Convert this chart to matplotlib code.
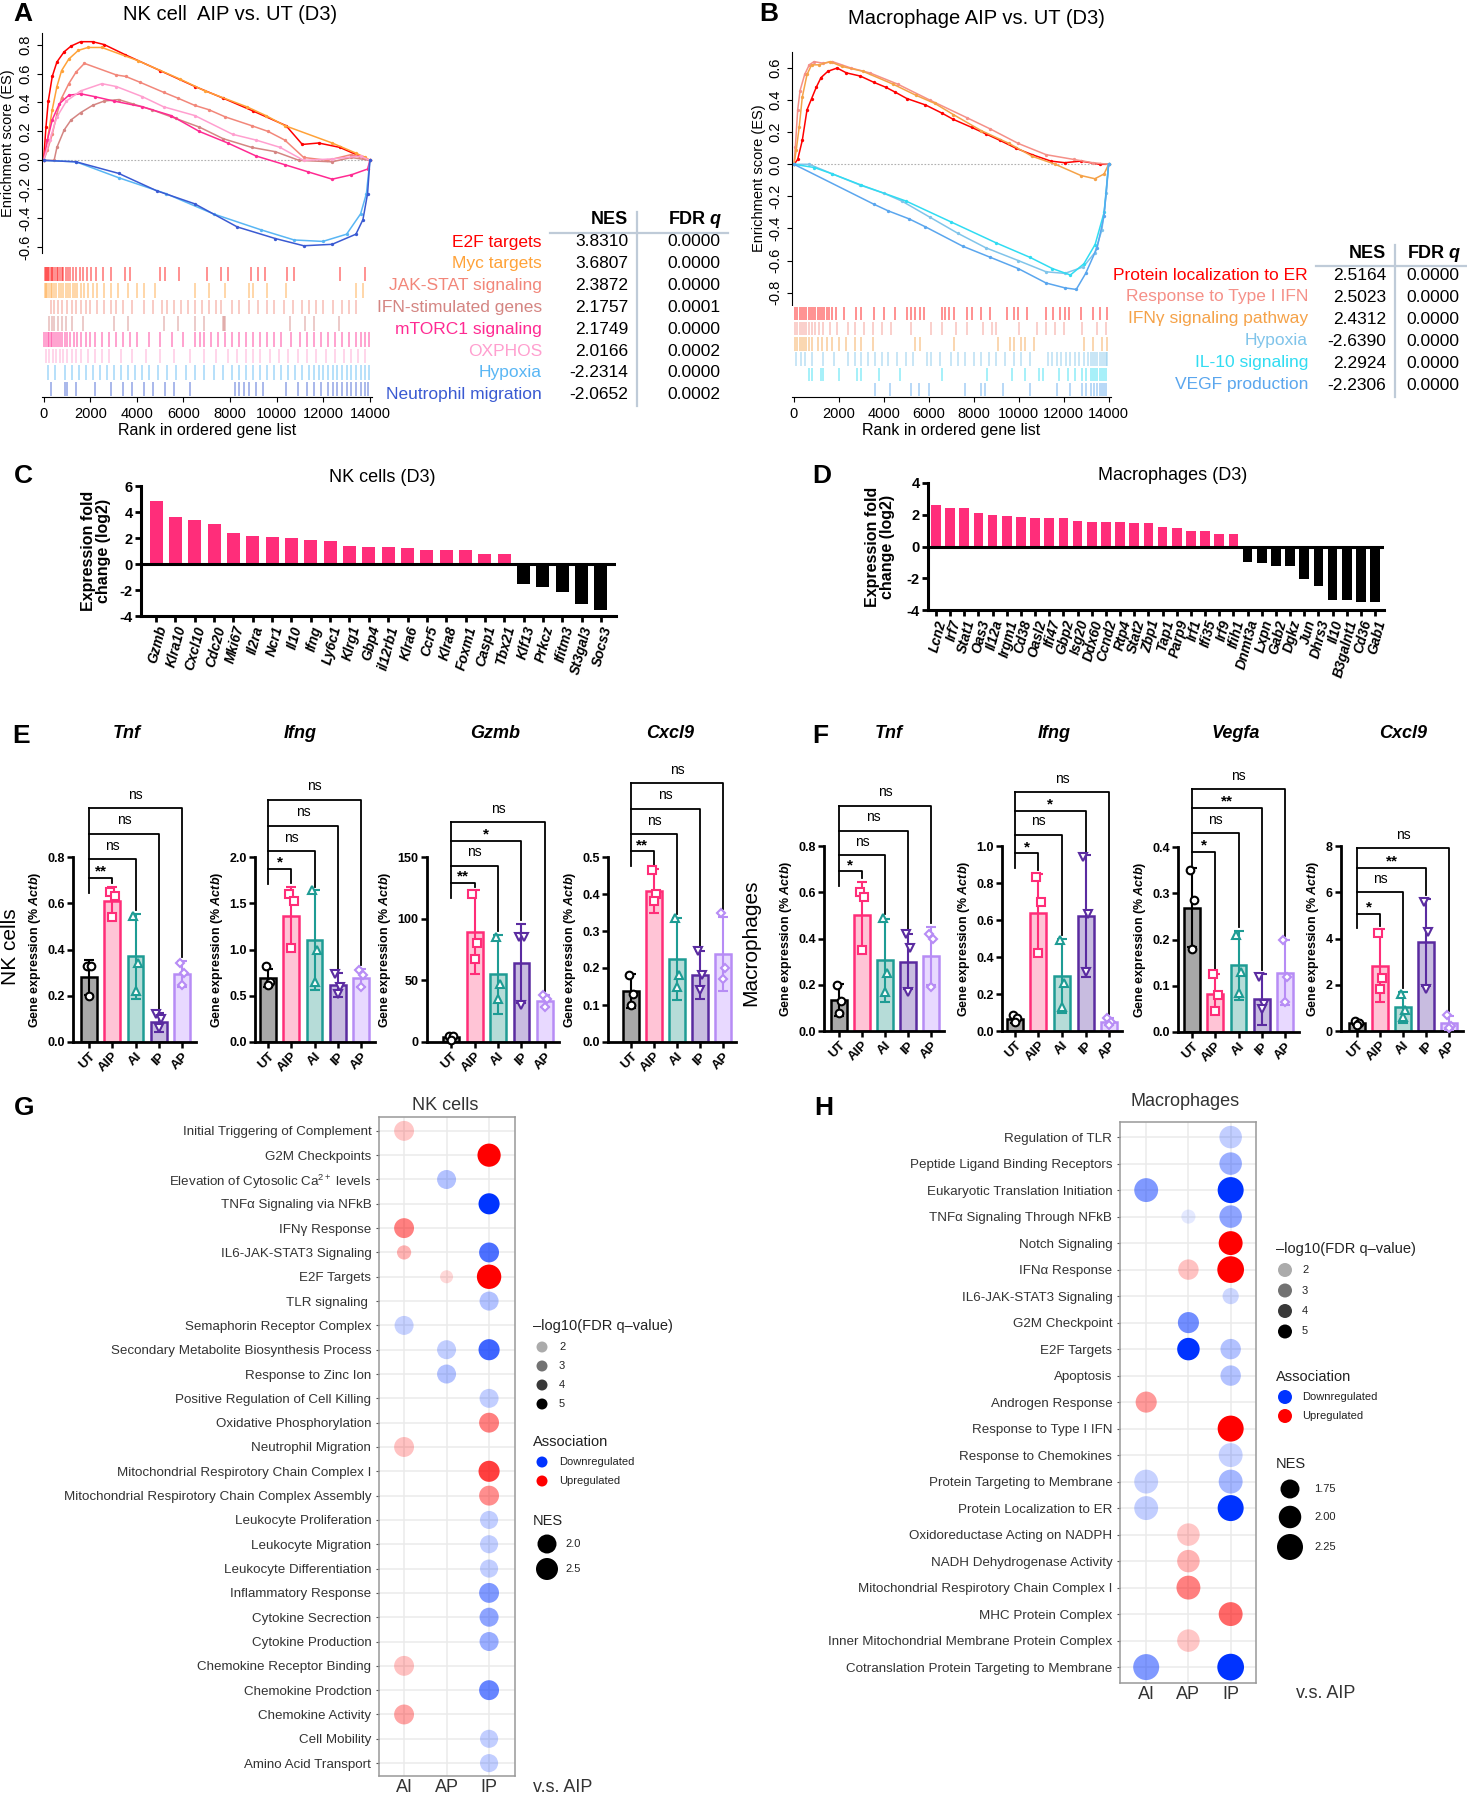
import numpy as np
import matplotlib
matplotlib.use('Agg')
import matplotlib.pyplot as plt

plt.rcParams['font.family'] = ['Liberation Sans', 'DejaVu Sans']
plt.rcParams['axes.unicode_minus'] = False
plt.rcParams['mathtext.fontset'] = 'custom'
plt.rcParams['mathtext.rm'] = 'Liberation Sans'
plt.rcParams['mathtext.it'] = 'Liberation Sans:italic'
plt.rcParams['mathtext.bf'] = 'Liberation Sans:bold'
try:
    plt.rcParams['mathtext.bfit'] = 'Liberation Sans:italic:bold'
    BFIT = r'$\mathbfit{Actb}$'
except KeyError:
    BFIT = r'$\mathit{Actb}$'

NARROW = ['Liberation Sans Narrow', 'Liberation Sans', 'DejaVu Sans']
W, H = 1467, 1800

# ---------------- panel A : NK cell AIP vs UT ----------------
a_names = ['E2F targets', 'Myc targets', 'JAK-STAT signaling', 'IFN-stimulated genes',
           'mTORC1 signaling', 'OXPHOS', 'Hypoxia', 'Neutrophil migration']
a_nes = ['3.8310', '3.6807', '2.3872', '2.1757', '2.1749', '2.0166', '-2.2314', '-2.0652']
a_fdr = ['0.0000', '0.0000', '0.0000', '0.0001', '0.0000', '0.0002', '0.0000', '0.0002']
a_colors = ['#ff0000', '#ffa238', '#f2877a', '#d48582', '#ff2a92', '#ff9fcf', '#59b6f4', '#3a5ad2']

a_rank_e2f = [0, 100, 200, 370, 570, 880, 1180, 1590, 2100, 2600, 3500, 5000, 6500, 7700, 9000,
              10400, 11100, 11800, 12700, 13700, 14000]
a_es_e2f = [0, 0.23, 0.41, 0.58, 0.68, 0.75, 0.79, 0.82, 0.82, 0.80, 0.73, 0.62, 0.51, 0.43, 0.34,
            0.24, 0.11, 0.12, 0.09, 0.02, 0]
a_rank_myc = [0, 160, 370, 570, 770, 1080, 1490, 1900, 2500, 4030, 5870, 6920, 8720, 9530, 10350,
              12380, 13400, 13800, 14000]
a_es_myc = [0, 0.14, 0.35, 0.51, 0.62, 0.70, 0.76, 0.78, 0.78, 0.69, 0.56, 0.48, 0.37, 0.31, 0.24,
            0.12, 0.05, 0.02, 0]
a_rank_jak = [0, 160, 370, 570, 770, 1080, 1390, 1750, 3120, 3520, 4130, 5150, 5760, 6480, 7090,
              7800, 8920, 9630, 10350, 11160, 12180, 13200, 14000]
a_es_jak = [0, 0.07, 0.18, 0.32, 0.43, 0.53, 0.61, 0.67, 0.59, 0.58, 0.54, 0.47, 0.43, 0.38, 0.35,
            0.30, 0.24, 0.20, 0.14, 0.02, 0.0, 0.04, 0]
a_rank_isg = [0, 450, 570, 880, 1180, 1590, 2100, 2600, 3220, 3830, 4640, 5660, 6680, 7700, 8920,
              9940, 10960, 12380, 13200, 14000]
a_es_isg = [0, 0.0, 0.09, 0.21, 0.28, 0.33, 0.38, 0.41, 0.42, 0.39, 0.35, 0.29, 0.23, 0.15, 0.09,
            0.06, 0.0, -0.01, 0.02, 0]
a_rank_mtor = [0, 160, 370, 670, 1080, 1590, 2200, 3010, 4240, 5460, 6680, 7900, 9120, 10350,
               11360, 12380, 13200, 13900, 14000]
a_es_mtor = [0, 0.14, 0.28, 0.39, 0.45, 0.46, 0.44, 0.41, 0.37, 0.31, 0.20, 0.12, 0.03, -0.03,
             -0.08, -0.13, -0.10, -0.06, 0]
a_rank_ox = [0, 260, 570, 980, 1590, 2500, 3120, 4240, 5150, 6480, 8110, 9120, 10140, 11160,
             12380, 13600, 14000]
a_es_ox = [0, 0.14, 0.30, 0.41, 0.48, 0.53, 0.51, 0.44, 0.37, 0.31, 0.18, 0.14, 0.09, 0.0, 0.01,
           0.03, 0]
a_rank_hyp = [0, 1390, 3220, 5250, 7290, 9330, 10750, 11980, 13000, 13600, 13850, 14000]
a_es_hyp = [0, -0.01, -0.12, -0.23, -0.37, -0.48, -0.55, -0.56, -0.51, -0.37, -0.23, 0]
a_rank_neu = [0, 1390, 3220, 4850, 6480, 8310, 9940, 11160, 12380, 13400, 13700, 13900, 14000]
a_es_neu = [0, -0.01, -0.09, -0.21, -0.30, -0.46, -0.54, -0.59, -0.58, -0.51, -0.41, -0.23, 0]

a_hits_e2f = [50, 100, 150, 200, 250, 300, 350, 420, 500, 560, 600, 700, 780, 850, 950, 1050, 1150,
              1250, 1400, 1550, 1700, 1850, 2050, 2250, 2550, 2900, 3500, 3700, 5000, 5200, 5800,
              7000, 7600, 7900, 8900, 9200, 9500, 10450, 10750, 12700, 13800]
a_hits_myc = [50, 100, 150, 250, 300, 350, 450, 550, 650, 750, 850, 950, 1050, 1150, 1250, 1350,
              1450, 1600, 1750, 1900, 2100, 2300, 2600, 2900, 3200, 3600, 4000, 4300, 4800, 6500,
              7100, 7800, 8800, 9000, 9600, 10400, 13400, 13700]
a_hits_jak = [300, 450, 600, 800, 1000, 1200, 1400, 1600, 1800, 2000, 2300, 2600, 2900, 3100, 3400,
              3800, 4300, 4700, 5100, 5300, 5600, 5900, 6200, 6500, 6800, 7100, 7400, 7600, 8100,
              8400, 8800, 9200, 9600, 9900, 10300, 10700, 11100, 11400, 11700, 12000, 12400, 12800,
              13100, 13400]
a_hits_isg = [250, 350, 450, 600, 800, 950, 1200, 1700, 3000, 3600, 5150, 5780, 6500, 6900, 7700,
              7750, 7800, 10570, 11200, 11600, 12680]
a_hits_mtor = [30, 100, 170, 240, 310, 380, 450, 520, 600, 700, 800, 900, 1000, 1150, 1300, 1450,
               1600, 1800, 2000, 2200, 2500, 2800, 3100, 3400, 3700, 4000, 4500, 5000, 5500, 6000,
               6500, 6700, 6900, 7200, 7500, 7800, 8100, 8400, 8700, 9000, 9300, 9600, 9900,
               10200, 10600, 11000, 11300, 11600, 11900, 12200, 12500, 12800, 13100, 13400,
               13600, 13800, 13950]
a_hits_ox = [100, 250, 400, 550, 700, 850, 1000, 1200, 1400, 1600, 1900, 2200, 2500, 2800, 3300,
             3800, 4400, 5000, 5600, 6300, 6900, 7400, 7900, 8300, 8700, 9000, 9300, 9700, 10100,
             10500, 10900, 11300, 11700, 12100, 12500, 12900, 13200, 13500, 13800]
a_hits_hyp = [200, 500, 900, 1200, 1500, 1800, 2100, 2400, 2700, 3000, 3300, 3600, 3900, 4200,
              4500, 4900, 5300, 5700, 6100, 6500, 6900, 7300, 7700, 8100, 8400, 8700, 9000, 9300,
              9600, 9900, 10200, 10500, 10800, 11100, 11400, 11600, 11800, 12000, 12200, 12400,
              12600, 12800, 13000, 13200, 13400, 13600, 13800, 13950]
a_hits_neu = [300, 900, 1000, 1400, 2200, 2900, 3400, 3800, 4300, 4700, 5200, 5600, 6300, 8200,
              8400, 8600, 8800, 9100, 9400, 10400, 10900, 11300, 11600, 11900, 12200, 12400,
              12600, 12800, 13000, 13200, 13400, 13600, 13800, 13900]

# ---------------- panel B : Macrophage AIP vs UT ----------------
b_names = ['Protein localization to ER', 'Response to Type I IFN', 'IFNγ signaling pathway',
           'Hypoxia', 'IL-10 signaling', 'VEGF production']
b_nes = ['2.5164', '2.5023', '2.4312', '-2.6390', '2.2924', '-2.2306']
b_fdr = ['0.0000', '0.0000', '0.0000', '0.0000', '0.0000', '0.0000']
b_colors = ['#ff0000', '#f59088', '#f5a248', '#80c4ea', '#30dcf2', '#5aa6ee']

b_rank_er = [0, 165, 370, 580, 785, 990, 1200, 1510, 1920, 2330, 2950, 3570, 4090, 4500, 5020,
             5850, 6570, 7090, 7910, 8530, 9150, 9880, 10600, 11430, 12050, 12770, 13600, 14000]
b_es_er = [0, 0.03, 0.15, 0.34, 0.41, 0.48, 0.54, 0.58, 0.60, 0.57, 0.55, 0.51, 0.48, 0.45, 0.41,
           0.37, 0.32, 0.28, 0.23, 0.19, 0.15, 0.10, 0.06, 0.02, 0.01, 0.02, 0.0, 0]
b_rank_ifn1 = [0, 60, 165, 270, 475, 680, 890, 1300, 1710, 2540, 3370, 4610, 6050, 7700, 8740,
               9980, 11220, 12460, 13290, 14000]
b_es_ifn1 = [0, 0.11, 0.34, 0.46, 0.56, 0.62, 0.64, 0.63, 0.64, 0.60, 0.57, 0.50, 0.40, 0.29, 0.22,
             0.13, 0.06, 0.03, 0.01, 0]
b_rank_ifng = [0, 100, 230, 370, 580, 785, 1100, 1610, 2130, 3060, 4400, 5430, 6260, 7090, 8330,
               9570, 10600, 11630, 12770, 13390, 13800, 14000]
b_es_ifng = [0, 0.09, 0.23, 0.42, 0.56, 0.62, 0.62, 0.64, 0.61, 0.58, 0.50, 0.43, 0.38, 0.31, 0.21,
             0.13, 0.05, 0.0, -0.07, -0.09, -0.06, 0]
b_rank_hyp = [0, 680, 1710, 2950, 3990, 4810, 6050, 7290, 8530, 9980, 11220, 12050, 12870, 13390,
              13700, 13900, 14000]
b_es_hyp = [0, 0.0, -0.06, -0.13, -0.18, -0.23, -0.33, -0.43, -0.52, -0.60, -0.67, -0.68, -0.64,
            -0.55, -0.41, -0.18, 0]
b_rank_il10 = [0, 900, 1710, 3000, 5000, 7000, 9000, 10500, 11500, 12300, 12900, 13400, 13800, 14000]
b_es_il10 = [0, -0.02, -0.06, -0.13, -0.23, -0.36, -0.49, -0.58, -0.65, -0.69, -0.62, -0.50, -0.30, 0]
b_rank_vegf = [0, 3570, 4190, 5120, 5850, 7500, 8740, 9980, 11220, 12050, 12560, 12980, 13490,
               13800, 14000]
b_es_vegf = [0, -0.25, -0.29, -0.34, -0.39, -0.51, -0.58, -0.65, -0.74, -0.77, -0.78, -0.68, -0.52,
             -0.32, 0]

b_hits_er = [60, 150, 250, 350, 450, 550, 650, 750, 850, 950, 1050, 1150, 1250, 1350, 1450, 1550,
             1700, 1850, 2230, 2750, 2960, 3580, 3990, 4500, 5020, 5200, 5400, 5600, 5800, 6570,
             6700, 6900, 7100, 7700, 7900, 8330, 8740, 9460, 9770, 9980, 10390, 11220, 11530,
             11840, 12050, 12260, 12770, 13290, 13600, 13910]
b_hits_ifn1 = [60, 150, 250, 350, 450, 550, 650, 800, 950, 1100, 1300, 1600, 1900, 2400, 2700, 3100,
               3500, 3900, 4300, 5200, 6100, 6600, 7200, 7700, 8400, 8800, 9000, 10000, 10800,
               11200, 11600, 12000, 12800, 13500, 13900]
b_hits_ifng = [60, 150, 250, 350, 450, 550, 650, 800, 1050, 1250, 1450, 1700, 2000, 2300, 2700,
               3000, 3500, 5400, 5600, 7100, 9100, 9600, 9800, 10100, 10300, 10700, 12900, 13300,
               13700, 13950]
b_hits_hyp = [100, 300, 500, 800, 1300, 1800, 2400, 2700, 3000, 3300, 3600, 3900, 4200, 4600, 5000,
              5300, 5900, 6100, 6500, 7000, 7300, 7600, 8000, 8300, 8700, 9000, 9400, 9800, 10100,
              10500, 11300, 11500, 11700, 11900, 12100, 12300, 12500, 12700, 12900, 13100, 13200,
              13300, 13400, 13500, 13600, 13700, 13800, 13900, 13950]
b_hits_il10 = [650, 800, 1200, 1300, 2000, 2800, 3000, 3800, 4700, 6600, 8600, 9700, 10300, 10900,
               11100, 11800, 12200, 12500, 12800, 13000, 13200, 13300, 13400, 13500, 13600, 13700,
               13800, 13900]
b_hits_vegf = [3600, 4250, 5200, 5550, 6000, 7600, 8300, 8500, 9300, 10500, 11700, 12300, 12800,
               13000, 13200, 13350, 13500, 13600, 13700, 13800, 13900]

# ---------------- panels C, D : fold change ----------------
c_genes = ['Gzmb', 'Klra10', 'Cxcl10', 'Cdc20', 'Mki67', 'Il2ra', 'Ncr1', 'Il10', 'Ifng', 'Ly6c1',
           'Klrg1', 'Gbp4', 'il12rb1', 'Klra6', 'Ccr5', 'Klra8', 'Foxm1', 'Casp1', 'Tbx21',
           'Klf13', 'Prkcz', 'Ifitm3', 'St3gal3', 'Socs3']
c_fc = [4.85, 3.6, 3.35, 3.1, 2.35, 2.15, 2.05, 2.0, 1.85, 1.75, 1.35, 1.3, 1.3, 1.2, 1.1, 1.05,
        1.05, 0.8, 0.8, -1.5, -1.8, -2.15, -3.1, -3.5]
d_genes = ['Lcn2', 'Irf7', 'Stat1', 'Oas3', 'Il12a', 'Irgm1', 'Cd38', 'Oasl2', 'Ifi47', 'Gbp2',
           'Isg20', 'Ddx60', 'Ccnd2', 'Rtp4', 'Stat2', 'Zbp1', 'Tap1', 'Parp9', 'Irf1', 'Ifi35',
           'Irf9', 'Ifih1', 'Dnmt3a', 'Lxpn', 'Gab2', 'Dgkz', 'Jun', 'Dhrs3', 'Il10', 'B3galnt1',
           'Cd36', 'Gab1']
d_fc = [2.6, 2.45, 2.45, 2.1, 2.0, 1.9, 1.85, 1.8, 1.8, 1.8, 1.6, 1.55, 1.55, 1.55, 1.5, 1.45,
        1.2, 1.15, 1.0, 0.95, 0.8, 0.8, -0.95, -1.05, -1.2, -1.25, -2.05, -2.5, -3.4, -3.4,
        -3.5, -3.5]

# ---------------- panels E, F : qPCR ----------------
groups = ['UT', 'AIP', 'AI', 'IP', 'AP']
e_genes = ['Tnf', 'Ifng', 'Gzmb', 'Cxcl9']
e_mean = [[0.28, 0.61, 0.37, 0.085, 0.295], [0.69, 1.36, 1.10, 0.62, 0.69],
          [3.8, 89, 55, 64, 33], [0.138, 0.408, 0.224, 0.18, 0.237]]
e_sd = [[0.075, 0.06, 0.185, 0.04, 0.055], [0.1, 0.32, 0.54, 0.13, 0.1],
        [1.5, 34, 32, 32, 5], [0.045, 0.06, 0.11, 0.065, 0.1]]
e_pts = [[[0.33, 0.33, 0.20], [0.65, 0.63, 0.54], [0.545, 0.34, 0.22], [0.12, 0.10, 0.06], [0.34, 0.30, 0.245]],
         [[0.82, 0.65, 0.62], [1.6, 1.52, 1.02], [1.64, 1.0, 0.65], [0.73, 0.6, 0.52], [0.78, 0.72, 0.6]],
         [[5, 5, 2], [120, 80, 67], [85, 47, 35], [85, 85, 30], [38, 35, 28]],
         [[0.18, 0.13, 0.10], [0.465, 0.40, 0.38], [0.335, 0.18, 0.15], [0.245, 0.18, 0.14], [0.35, 0.20, 0.17]]]
e_br_h = [[0.71, 0.79, 0.90, 1.01], [1.87, 2.06, 2.34, 2.62], [129, 143, 163, 178], [0.515, 0.562, 0.63, 0.70]]
e_br_lab = [['**', 'ns', 'ns', 'ns'], ['*', 'ns', 'ns', 'ns'], ['**', 'ns', '*', 'ns'], ['**', 'ns', 'ns', 'ns']]
e_yticks = [[0.0, 0.2, 0.4, 0.6, 0.8], [0.0, 0.5, 1.0, 1.5, 2.0], [0, 50, 100, 150], [0.0, 0.1, 0.2, 0.3, 0.4, 0.5]]

f_genes = ['Tnf', 'Ifng', 'Vegfa', 'Cxcl9']
f_mean = [[0.134, 0.5, 0.305, 0.30, 0.325], [0.063, 0.64, 0.30, 0.62, 0.05],
          [0.269, 0.083, 0.144, 0.071, 0.128], [0.36, 2.82, 1.02, 3.83, 0.36]]
f_sd = [[0.07, 0.145, 0.18, 0.12, 0.125], [0.02, 0.21, 0.2, 0.33, 0.02],
        [0.085, 0.043, 0.075, 0.055, 0.07], [0.1, 1.58, 0.68, 1.87, 0.3]]
f_pts = [[[0.2, 0.13, 0.08], [0.60, 0.58, 0.35], [0.49, 0.25, 0.17], [0.42, 0.36, 0.17], [0.42, 0.40, 0.19]],
         [[0.085, 0.07, 0.05], [0.83, 0.70, 0.42], [0.49, 0.26, 0.13], [0.94, 0.63, 0.32], [0.07, 0.05, 0.03]],
         [[0.35, 0.285, 0.18], [0.125, 0.08, 0.045], [0.21, 0.13, 0.085], [0.12, 0.06, 0.05], [0.2, 0.12, 0.065]],
         [[0.45, 0.35, 0.25], [4.25, 2.3, 1.8], [1.6, 0.9, 0.6], [5.6, 4.3, 1.8], [0.7, 0.2, 0.15]]]
f_br_h = [[0.69, 0.76, 0.865, 0.975], [0.96, 1.06, 1.19, 1.29], [0.39, 0.43, 0.485, 0.525], [5.08, 6.0, 7.05, 7.9]]
f_br_lab = [['*', 'ns', 'ns', 'ns'], ['*', 'ns', '*', 'ns'], ['*', 'ns', '**', 'ns'], ['*', 'ns', '**', 'ns']]
f_yticks = [[0.0, 0.2, 0.4, 0.6, 0.8], [0.0, 0.2, 0.4, 0.6, 0.8, 1.0], [0.0, 0.1, 0.2, 0.3, 0.4], [0, 2, 4, 6, 8]]

# ---------------- panels G, H : pathway dot plots ----------------
comps = ['AI', 'AP', 'IP']
g_terms = ['Initial Triggering of Complement', 'G2M Checkpoints', 'Elevation of Cytosolic Ca$^{2+}$ levels',
           'TNFα Signaling via NFkB', 'IFNγ Response', 'IL6-JAK-STAT3 Signaling', 'E2F Targets',
           'TLR signaling ', 'Semaphorin Receptor Complex', 'Secondary Metabolite Biosynthesis Process',
           'Response to Zinc Ion', 'Positive Regulation of Cell Killing', 'Oxidative Phosphorylation',
           'Neutrophil Migration', 'Mitochondrial Respirotory Chain Complex I',
           'Mitochondrial Respirotory Chain Complex Assembly', 'Leukocyte Proliferation',
           'Leukocyte Migration', 'Leukocyte Differentiation', 'Inflammatory Response',
           'Cytokine Secrection', 'Cytokine Production', 'Chemokine Receptor Binding',
           'Chemokine Prodction', 'Chemokine Activity', 'Cell Mobility', 'Amino Acid Transport']
g_dot_row = [0, 1, 2, 3, 4, 5, 5, 6, 6, 7, 8, 9, 9, 10, 11, 12, 13, 14, 15, 16, 17, 18, 19, 20,
             21, 22, 23, 24, 25, 26]
g_dot_comp = ['AI', 'IP', 'AP', 'IP', 'AI', 'AI', 'IP', 'AP', 'IP', 'IP', 'AI', 'AP', 'IP', 'AP',
              'IP', 'IP', 'AI', 'IP', 'IP', 'IP', 'IP', 'IP', 'IP', 'IP', 'IP', 'AI', 'IP', 'AI',
              'IP', 'IP']
g_dot_dir = ['up', 'up', 'down', 'down', 'up', 'up', 'down', 'up', 'up', 'down', 'down', 'down',
             'down', 'down', 'down', 'up', 'up', 'up', 'up', 'down', 'down', 'down', 'down', 'down',
             'down', 'up', 'down', 'up', 'down', 'down']
g_dot_nes = [2.15, 2.7, 2.0, 2.35, 2.15, 1.2, 2.15, 1.0, 2.9, 2.0, 2.0, 2.0, 2.35, 2.0, 2.0, 2.15,
             2.15, 2.35, 2.15, 1.85, 1.85, 1.85, 2.15, 2.0, 2.0, 2.15, 2.15, 2.15, 1.85, 1.85]
g_dot_logq = [1.5, 5, 1.85, 5, 2.75, 1.85, 3.65, 1.2, 5, 1.85, 1.5, 1.6, 3.9, 1.85, 1.6, 2.75, 1.6,
              3.9, 2.5, 1.6, 1.6, 1.6, 2.75, 2.5, 2.3, 1.6, 3.2, 2.1, 1.6, 1.6]

h_terms = ['Regulation of TLR', 'Peptide Ligand Binding Receptors', 'Eukaryotic Translation Initiation',
           'TNFα Signaling Through NFkB', 'Notch Signaling', 'IFNα Response', 'IL6-JAK-STAT3 Signaling',
           'G2M Checkpoint', 'E2F Targets', 'Apoptosis', 'Androgen Response', 'Response to Type I IFN',
           'Response to Chemokines', 'Protein Targeting to Membrane', 'Protein Localization to ER',
           'Oxidoreductase Acting on NADPH', 'NADH Dehydrogenase Activity',
           'Mitochondrial Respirotory Chain Complex I', 'MHC Protein Complex',
           'Inner Mitochondrial Membrane Protein Complex', 'Cotranslation Protein Targeting to Membrane']
h_dot_row = [0, 1, 2, 2, 3, 3, 4, 5, 5, 6, 7, 8, 8, 9, 10, 11, 12, 13, 13, 14, 14, 15, 16, 17, 18,
             19, 20, 20]
h_dot_comp = ['IP', 'IP', 'AI', 'IP', 'AP', 'IP', 'IP', 'AP', 'IP', 'IP', 'AP', 'AP', 'IP', 'IP',
              'AI', 'IP', 'IP', 'AI', 'IP', 'AI', 'IP', 'AP', 'AP', 'AP', 'IP', 'AP', 'AI', 'IP']
h_dot_dir = ['down', 'down', 'down', 'down', 'down', 'down', 'up', 'up', 'up', 'down', 'down',
             'down', 'down', 'down', 'up', 'up', 'down', 'down', 'down', 'down', 'down', 'up', 'up',
             'up', 'up', 'up', 'down', 'down']
h_dot_nes = [2.0, 2.0, 2.1, 2.25, 1.4, 2.0, 2.1, 1.85, 2.3, 1.55, 1.9, 2.0, 1.85, 1.85, 1.9, 2.25,
             2.1, 2.1, 2.1, 2.1, 2.25, 2.0, 2.0, 2.1, 2.1, 2.0, 2.25, 2.3]
h_dot_logq = [1.6, 2.3, 2.75, 5, 1.0, 2.5, 5, 1.6, 5, 1.4, 3.0, 5, 1.85, 1.85, 2.3, 5, 1.5, 1.5,
              2.1, 1.6, 5, 1.5, 1.85, 2.75, 3.2, 1.5, 2.75, 5]

# =====================================================================
fig = plt.figure(figsize=(W / 100, H / 100), dpi=100)


def px_axes(l, t, r, b):
    return fig.add_axes([l / W, 1 - b / H, (r - l) / W, (b - t) / H])


ov = fig.add_axes([0, 0, 1, 1], zorder=10)
ov.set_xlim(0, W)
ov.set_ylim(H, 0)
ov.axis('off')

# panel letters
for s, x, y in [('A', 13, 14), ('B', 759, 14), ('C', 14, 476), ('D', 812, 476),
                ('E', 12, 736), ('F', 812, 736), ('G', 14, 1108), ('H', 814, 1108)]:
    ov.text(x, y, s, fontsize=19, fontweight='bold', ha='left', va='center')


# ---------------- GSEA ----------------
def gsea(es_box, bc_box, curves, hits, colors, xlim, ylim, yticks):
    ax = px_axes(*es_box)
    ax.plot([0, 14000], [0, 0], ls=(0, (1.5, 1.5)), color='#b0b0b0', lw=0.8)
    for (rk, es), c in zip(curves, colors):
        ax.plot(rk, es, '-', color=c, lw=1.1)
        ax.plot(rk, es, 'o', color=c, ms=2.4, mew=0)
    ax.set_xlim(xlim)
    ax.set_ylim(ylim)
    for s in ['top', 'right', 'bottom']:
        ax.spines[s].set_visible(False)
    ax.set_xticks([])
    ax.set_yticks(yticks)
    ax.set_yticklabels(['%.1f' % v for v in yticks], rotation=90, va='center',
                       family=NARROW, fontsize=10.5)
    ax.set_ylabel('Enrichment score (ES)', family=NARROW, fontsize=10.5, labelpad=2)
    ax.patch.set_alpha(0)
    bc = px_axes(*bc_box)
    for i, (hs, c) in enumerate(zip(hits, colors)):
        bc.vlines(hs, i + 0.06, i + 0.94, color=c, lw=1.1, alpha=0.55)
    bc.set_xlim(xlim)
    bc.set_ylim(len(hits), 0)
    for s in ['top', 'right', 'left']:
        bc.spines[s].set_visible(False)
    bc.set_yticks([])
    bc.set_xticks(range(0, 14001, 2000))
    bc.set_xticklabels([str(v) for v in range(0, 14001, 2000)], family=NARROW, fontsize=10.5)
    bc.set_xlabel('Rank in ordered gene list', family=NARROW, fontsize=11.5, labelpad=2)


def table(names, nes, fdr, colors, x_lab, x_nes, x_fdr, y_head, y0, dy, hline, vline):
    ov.text(x_nes, y_head, 'NES', ha='right', va='center', fontsize=13, fontweight='bold', family=NARROW)
    ov.text(x_fdr - 14, y_head, 'FDR', ha='right', va='center', fontsize=13, fontweight='bold', family=NARROW)
    ov.text(x_fdr, y_head, 'q', ha='right', va='center', fontsize=13, fontweight='bold',
            style='italic', family=NARROW)
    ov.plot(hline[0], hline[1], color='#bfcbd8', lw=1.6)
    ov.plot(vline[0], vline[1], color='#bfcbd8', lw=1.6)
    for i, (n, v, q, c) in enumerate(zip(names, nes, fdr, colors)):
        y = y0 + i * dy
        ov.text(x_lab, y, n, ha='right', va='center', color=c, fontsize=12.5, family=NARROW)
        ov.text(x_nes, y, v, ha='right', va='center', fontsize=12.5, family=NARROW)
        ov.text(x_fdr, y, q, ha='right', va='center', fontsize=12.5, family=NARROW)


gsea((42, 33, 372, 253), (42, 266, 372, 397),
     [(a_rank_e2f, a_es_e2f), (a_rank_myc, a_es_myc), (a_rank_jak, a_es_jak), (a_rank_isg, a_es_isg),
      (a_rank_mtor, a_es_mtor), (a_rank_ox, a_es_ox), (a_rank_hyp, a_es_hyp), (a_rank_neu, a_es_neu)],
     [a_hits_e2f, a_hits_myc, a_hits_jak, a_hits_isg, a_hits_mtor, a_hits_ox, a_hits_hyp, a_hits_neu],
     a_colors, (-70, 14090), (-0.64, 0.88), [-0.6, -0.4, -0.2, 0.0, 0.2, 0.4, 0.6, 0.8])
ov.text(230, 15, 'NK cell  AIP vs. UT (D3)', ha='center', va='center', fontsize=14.5, family=NARROW)
table(a_names, a_nes, a_fdr, a_colors, 542, 628, 720, 220, 242, 21.8,
      ([550, 728], [233, 233]), ([637, 637], [212, 406]))

gsea((792, 52, 1111, 305), (792, 306, 1111, 397),
     [(b_rank_er, b_es_er), (b_rank_ifn1, b_es_ifn1), (b_rank_ifng, b_es_ifng),
      (b_rank_hyp, b_es_hyp), (b_rank_il10, b_es_il10), (b_rank_vegf, b_es_vegf)],
     [b_hits_er, b_hits_ifn1, b_hits_ifng, b_hits_hyp, b_hits_il10, b_hits_vegf],
     b_colors, (-89, 14107), (-0.877, 0.70), [-0.8, -0.6, -0.4, -0.2, 0.0, 0.2, 0.4, 0.6])
ov.text(976, 18, 'Macrophage AIP vs. UT (D3)', ha='center', va='center', fontsize=14.5, family=NARROW)
table(b_names, b_nes, b_fdr, b_colors, 1308, 1386, 1459, 253, 275, 22,
      ([1316, 1466], [266, 266]), ([1395, 1395], [245, 397]))


# ---------------- fold change bars ----------------
def fold(box, genes, vals, xlim, ylim, yticks, title, title_xy, ylab_x):
    ax = px_axes(*box)
    x = np.arange(len(genes))
    cols = ['#ff2d7a' if v > 0 else 'black' for v in vals]
    ax.bar(x, vals, width=0.68, color=cols)
    ax.axhline(0, color='black', lw=2.2)
    ax.set_xlim(xlim)
    ax.set_ylim(ylim)
    for s in ['top', 'right']:
        ax.spines[s].set_visible(False)
    for s in ['left', 'bottom']:
        ax.spines[s].set_linewidth(2.2)
    ax.set_yticks(yticks)
    ax.set_yticklabels([str(v) for v in yticks], fontweight='bold', fontsize=10.5)
    ax.set_xticks(x)
    ax.set_xticklabels(genes, rotation=75, ha='right', va='top', rotation_mode='anchor',
                       fontsize=10, fontweight='bold', style='italic')
    ax.tick_params(width=2, length=4, pad=2)
    ov.text(title_xy[0], title_xy[1], title, ha='center', va='center', fontsize=13, family=NARROW)
    ov.text(ylab_x, (box[1] + box[3]) / 2, 'Expression fold\nchange (log2)', rotation=90,
            ha='center', va='center', fontsize=11.5, fontweight='bold', linespacing=1.0)


fold((141, 486, 616, 616), c_genes, c_fc, (-0.78, 23.78), (-4, 6), [-4, -2, 0, 2, 4, 6],
     'NK cells (D3)', (382, 478), 96)
fold((928, 483, 1384, 610), d_genes, d_fc, (-0.56, 31.63), (-4, 4), [-4, -2, 0, 2, 4],
     'Macrophages (D3)', (1173, 476), 880)

# ---------------- qPCR bars ----------------
bar_fill = ['#a8a8a8', '#ffc4d6', '#b6dcd8', '#c8bce0', '#e8d9ff']
bar_edge = ['#000000', '#ff2d78', '#1e9c94', '#5a2ba0', '#b78cf5']
bar_mark = ['o', 's', '^', 'v', 'D']
pt_dx = [-0.1, 0.1, 0.0]


def qpcr(box, xlim, mean, sd, pts, br_h, br_lab, yticks, gene, title_x):
    ax = px_axes(*box)
    x = np.arange(len(groups))
    ymax = yticks[-1]
    ax.bar(x, mean, width=0.68, color=bar_fill, edgecolor=bar_edge, lw=1.8, zorder=2)
    for i in range(len(groups)):
        ax.errorbar(x[i], mean[i], yerr=sd[i], color=bar_edge[i], capsize=3.5, lw=1.5,
                    capthick=1.5, zorder=3)
        ms = 5.5 if bar_mark[i] != 'D' else 4.5
        ax.plot(x[i] + np.array(pt_dx), pts[i], bar_mark[i], mfc='white', mec=bar_edge[i],
                mew=1.5, ms=ms, zorder=4, clip_on=False)
    # significance brackets UT vs each group
    drop = 0.08 * ymax
    ax.plot([0, 0], [br_h[-1], br_h[0] - drop], color='black', lw=1.3, clip_on=False)
    for j, (h, lab) in enumerate(zip(br_h, br_lab)):
        tgt = j + 1
        top = max(mean[tgt] + sd[tgt], max(pts[tgt])) + 0.02 * ymax
        ax.plot([0, tgt, tgt], [h, h, top], color='black', lw=1.3, clip_on=False)
        if lab == 'ns':
            ax.text(tgt / 2, h + 0.035 * ymax, lab, ha='center', va='bottom', fontsize=10, family=NARROW)
        else:
            ax.text(tgt / 2, h - 0.005 * ymax, lab, ha='center', va='bottom', fontsize=11, fontweight='bold')
    ax.set_xlim(xlim)
    ax.set_ylim(0, ymax)
    for s in ['top', 'right']:
        ax.spines[s].set_visible(False)
    for s in ['left', 'bottom']:
        ax.spines[s].set_linewidth(2)
    ax.set_yticks(yticks)
    if isinstance(yticks[1], int):
        ylabs = [str(v) for v in yticks]
    else:
        ylabs = ['%.1f' % v for v in yticks]
    ax.set_yticklabels(ylabs, fontweight='bold', fontsize=9)
    ax.set_xticks(x)
    ax.set_xticklabels(groups, rotation=45, ha='right', va='top', rotation_mode='anchor',
                       fontweight='bold', fontsize=9.5)
    ax.tick_params(width=1.8, length=4, pad=2)
    ax.set_ylabel('Gene expression (% ' + BFIT + ')', fontweight='bold', fontsize=9, labelpad=3)
    ov.text(title_x, 733, gene, ha='center', va='center', fontsize=13, fontweight='bold', style='italic')


e_boxes = [(73, 857, 196, 1042), (255, 857, 375, 1042), (427, 857, 559, 1042), (608, 857, 736, 1042)]
e_xlims = [(-0.69, 4.6), (-0.56, 4.6), (-1.03, 4.6), (-0.99, 4.56)]
e_title_x = [127, 300, 495, 670]
for k in range(4):
    qpcr(e_boxes[k], e_xlims[k], e_mean[k], e_sd[k], e_pts[k], e_br_h[k], e_br_lab[k],
         e_yticks[k], e_genes[k], e_title_x[k])

f_boxes = [(824, 846, 944, 1031), (1002, 846, 1122, 1031), (1178, 847, 1299, 1032), (1341, 846, 1463, 1031)]
f_xlims = [(-0.65, 4.57), (-0.55, 4.55), (-0.6, 4.6), (-0.7, 4.6)]
f_title_x = [889, 1054, 1236, 1403]
for k in range(4):
    qpcr(f_boxes[k], f_xlims[k], f_mean[k], f_sd[k], f_pts[k], f_br_h[k], f_br_lab[k],
         f_yticks[k], f_genes[k], f_title_x[k])

ov.text(11, 947, 'NK cells', rotation=90, ha='center', va='center', fontsize=15)
ov.text(751, 943, 'Macrophages', rotation=90, ha='center', va='center', fontsize=15)


# ---------------- dot plots ----------------
def alpha_of(q):
    return float(np.clip(0.33 + 0.223 * (q - 2), 0.08, 1.0))


def dotplot(box, terms, rows, cp, dirs, nes, logq, xlim, ylim, dia, title, title_xy, vs_x):
    ax = px_axes(*box)
    cols = [comps.index(c) for c in cp]
    rgba = [(1, 0, 0, alpha_of(q)) if d == 'up' else (0, 0.2, 1, alpha_of(q)) for d, q in zip(dirs, logq)]
    sizes = [(dia(n) * 0.72) ** 2 for n in nes]
    ax.scatter(cols, rows, s=sizes, c=rgba, edgecolors='none', zorder=3)
    ax.set_xlim(xlim)
    ax.set_ylim(ylim)
    ax.set_yticks(range(len(terms)))
    ax.set_yticklabels(terms, family=NARROW, fontsize=9.6, color='#333333')
    ax.set_xticks(range(3))
    ax.set_xticklabels(comps, family=NARROW, fontsize=13, color='#333333')
    ax.tick_params(axis='y', length=2.5, color='#555555', pad=3)
    ax.tick_params(axis='x', length=0, pad=2)
    ax.grid(True, color='#ebebeb', lw=1.1)
    ax.set_axisbelow(True)
    for s in ax.spines.values():
        s.set_color('#999999')
        s.set_linewidth(1.1)
    ov.text(title_xy[0], title_xy[1], title, ha='center', va='center', fontsize=13,
            family=NARROW, color='#333333')
    ov.text(vs_x, box[3] + 11, 'v.s. AIP', ha='left', va='center', fontsize=13,
            family=NARROW, color='#333333')


g_dia = lambda n: 7 + 6 * n
h_dia = lambda n: 14 * n - 5.5
dotplot((379, 1117, 515, 1776), g_terms, g_dot_row, g_dot_comp, g_dot_dir, g_dot_nes, g_dot_logq,
        (-0.59, 2.61), (26.53, -0.57), g_dia, 'NK cells', (445, 1105), 533)
dotplot((1120, 1122, 1256, 1683), h_terms, h_dot_row, h_dot_comp, h_dot_dir, h_dot_nes, h_dot_logq,
        (-0.62, 2.6), (20.6, -0.57), h_dia, 'Macrophages', (1185, 1101), 1296)


def legend(x0, y_q, dy_q, q_dot, y_assoc, y_nes, nes_vals, nes_ys, dia, num_dx):
    ov.text(x0, y_q, '\u2013log10(FDR q\u2013value)', ha='left', va='center', fontsize=10.5,
            family=NARROW, color='#222222')
    for i, q in enumerate([2, 3, 4, 5]):
        yy = y_q + 21 + i * dy_q
        ov.scatter([x0 + 9], [yy], s=(q_dot * 0.72) ** 2, color=(0, 0, 0, alpha_of(q)), edgecolors='none')
        ov.text(x0 + 26, yy, str(q), ha='left', va='center', fontsize=8, color='#222222')
    ov.text(x0, y_assoc, 'Association', ha='left', va='center', fontsize=10.5, family=NARROW, color='#222222')
    for i, (lab, c) in enumerate([('Downregulated', '#0033ff'), ('Upregulated', '#ff0000')]):
        yy = y_assoc + 20 + i * 19
        ov.scatter([x0 + 9], [yy], s=(q_dot * 0.72) ** 2, color=c, edgecolors='none')
        ov.text(x0 + 26, yy, lab, ha='left', va='center', fontsize=8, family=NARROW, color='#222222')
    ov.text(x0, y_nes, 'NES', ha='left', va='center', fontsize=10.5, family=NARROW, color='#222222')
    for v, yy in zip(nes_vals, nes_ys):
        ov.scatter([x0 + 14], [yy], s=(dia(v) * 0.72) ** 2, color='black', edgecolors='none')
        ov.text(x0 + num_dx, yy, '%.2f' % v if len(nes_vals) == 3 else '%.1f' % v,
                ha='left', va='center', fontsize=8, color='#222222')


legend(533, 1326, 19, 11, 1442, 1521, [2.0, 2.5], [1544, 1569], g_dia, 32)
legend(1276, 1249, 20.5, 14, 1377, 1464, [1.75, 2.0, 2.25], [1489, 1517, 1547], h_dia, 38)

fig.savefig('out.png', dpi=100)
